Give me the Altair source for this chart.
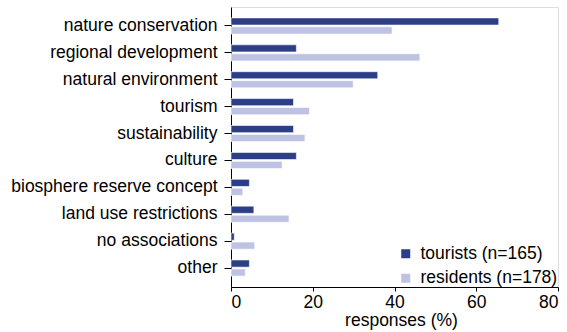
import altair as alt
import pandas as pd

categories = ["nature conservation", "regional development", "natural environment",
              "tourism", "sustainability", "culture", "biosphere reserve concept",
              "land use restrictions", "no associations", "other"]
tourists = [65.5, 16.0, 35.9, 15.3, 15.3, 16.0, 4.5, 5.6, 0.8, 4.5]
residents = [39.4, 46.2, 29.9, 19.2, 18.1, 12.5, 2.9, 14.2, 5.8, 3.5]
groups = ["tourists (n=165)", "residents (n=178)"]
colors = ["#2c3e86", "#bfc3e3"]

rows = []
for c, t, r in zip(categories, tourists, residents):
    rows.append({"category": c, "group": groups[0], "value": t})
    rows.append({"category": c, "group": groups[1], "value": r})
df = pd.DataFrame(rows)

font = "Liberation Sans"
fs = 17.5

chart = alt.Chart(df).mark_bar(stroke="white", strokeWidth=0.6).encode(
    x=alt.X("value:Q", scale=alt.Scale(domain=[0, 80], nice=False),
            axis=alt.Axis(values=[0, 20, 40, 60, 80], title="responses (%)",
                          grid=False, tickSize=4, tickColor="black",
                          labelFontSize=fs, titleFontSize=fs,
                          titleFontWeight="normal", labelColor="black", titleColor="black",
                          domainColor="black", labelPadding=2, titlePadding=1,
                          labelFont=font, titleFont=font, titleX=170)),
    y=alt.Y("category:N", sort=categories,
            scale=alt.Scale(paddingInner=0.4, paddingOuter=0.405),
            axis=alt.Axis(title=None, labelFontSize=fs, labelColor="black", labelFont=font,
                          tickSize=7, tickColor="black", domainColor="black",
                          labelPadding=7, labelLimit=400)),
    yOffset=alt.YOffset("group:N", sort=groups,
                        scale=alt.Scale(paddingInner=0.2)),
    color=alt.Color("group:N", sort=groups,
                    scale=alt.Scale(domain=groups, range=colors),
                    legend=alt.Legend(title=None, orient="none", legendX=166, legendY=238,
                                      symbolType="square", symbolSize=81,
                                      symbolStrokeWidth=0, labelFontSize=fs,
                                      labelFont=font, labelColor="black",
                                      rowPadding=5.5, labelOffset=6)),
).properties(
    width=327, height=280,
    autosize=alt.AutoSizeParams(type="none"),
    padding={"left": 231, "top": 7, "right": 9, "bottom": 45},
).configure_view(stroke="black", strokeWidth=1.2).configure(background="white")

chart.save("out.html", embed_options={"renderer": "svg", "actions": False})
